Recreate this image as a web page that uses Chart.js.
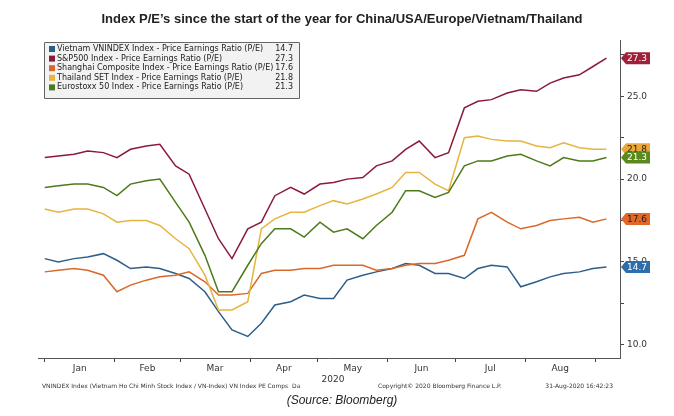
<!DOCTYPE html>
<html><head><meta charset="utf-8">
<script src="https://cdn.jsdelivr.net/npm/chart.js@4"></script>
<style>html,body{margin:0;padding:0;background:#fff}#w{width:674px;height:416px;position:relative}</style>
</head><body><div id="w"><canvas id="c" width="674" height="416"></canvas></div>
<script>
const days=[0,6,13,19,26,32,38,45,51,58,64,71,77,83,90,96,102,109,115,122,128,134,141,147,154,160,166,173,179,186,192,198,205,211,218,224,230,237,243,249];
const monthLabels=["Jan","Feb","Mar","Apr","May","Jun","Jul","Aug"];
const monthStarts=[0,31,60,91,121,152,182,213,244];
const yTicks=[10,15,20,25];
const vietnam=[15.2,15.0,15.2,15.3,15.5,15.1,14.6,14.7,14.6,14.3,14.0,13.2,12.0,10.9,10.5,11.3,12.4,12.6,13.0,12.8,12.8,13.9,14.2,14.4,14.6,14.9,14.8,14.3,14.3,14.0,14.6,14.8,14.7,13.5,13.8,14.1,14.3,14.4,14.6,14.7];
const sp500=[21.3,21.4,21.5,21.7,21.6,21.3,21.8,22.0,22.1,20.8,20.3,18.2,16.4,15.2,17.0,17.4,19.0,19.5,19.1,19.7,19.8,20.0,20.1,20.8,21.1,21.8,22.3,21.3,21.6,24.3,24.7,24.8,25.2,25.4,25.3,25.8,26.1,26.3,26.8,27.3];
const shanghai=[14.4,14.5,14.6,14.5,14.2,13.2,13.6,13.9,14.1,14.2,14.4,13.8,13.0,13.0,13.1,14.3,14.5,14.5,14.6,14.6,14.8,14.8,14.8,14.5,14.6,14.8,14.9,14.9,15.1,15.4,17.6,18.0,17.4,17.0,17.2,17.5,17.6,17.7,17.4,17.6];
const thailand=[18.2,18.0,18.2,18.2,17.9,17.4,17.5,17.5,17.2,16.4,15.8,14.2,12.1,12.1,12.6,17.0,17.6,18.0,18.0,18.4,18.7,18.5,18.8,19.1,19.5,20.4,20.4,19.7,19.3,22.5,22.6,22.4,22.3,22.3,22.0,21.9,22.2,21.9,21.8,21.8];
const eurostoxx=[19.5,19.6,19.7,19.7,19.5,19.0,19.7,19.9,20.0,18.6,17.4,15.4,13.2,13.2,14.8,16.1,17.0,17.0,16.5,17.4,16.8,17.0,16.4,17.2,18.0,19.3,19.3,18.9,19.2,20.8,21.1,21.1,21.4,21.5,21.1,20.8,21.3,21.1,21.1,21.3];
const series=[
 {name:"Vietnam VNINDEX Index - Price Earnings Ratio (P/E)",data:vietnam,color:"#2d5f8a",tag:"#2f6ea8",txt:"#fff"},
 {name:"S&P500 Index - Price Earnings Ratio (P/E)",data:sp500,color:"#8b1a3a",tag:"#a0203a",txt:"#fff"},
 {name:"Shanghai Composite Index - Price Earnings Ratio (P/E)",data:shanghai,color:"#d9692a",tag:"#e2682a",txt:"#222"},
 {name:"Thailand SET Index - Price Earnings Ratio (P/E)",data:thailand,color:"#e6b440",tag:"#eaa83a",txt:"#222"},
 {name:"Eurostoxx 50 Index - Price Earnings Ratio (P/E)",data:eurostoxx,color:"#4d7a1a",tag:"#5a8a1e",txt:"#fff"}
];
const draw={id:'draw',afterDraw(ch){
 const c=ch.ctx,x=ch.scales.x,y=ch.scales.y,a=ch.chartArea;
 c.save();
 c.fillStyle='#222';c.font='bold 13px "Liberation Sans",Arial';c.textAlign='center';c.textBaseline='middle';
 c.fillText("Index P/E’s since the start of the year for China/USA/Europe/Vietnam/Thailand",342,19);
 c.font='9px "DejaVu Sans"';c.fillStyle='#333';c.textAlign='left';
 yTicks.forEach(v=>c.fillText(v.toFixed(1),a.right+7,y.getPixelForValue(v)));
 c.textAlign='center';
 monthLabels.forEach((m,i)=>c.fillText(m,(x.getPixelForValue(monthStarts[i])+x.getPixelForValue(monthStarts[i+1]))/2,a.bottom+11));
 c.fillText("2020",333,a.bottom+22);
 c.font='6px "DejaVu Sans"';c.textAlign='left';
 c.fillText("VNINDEX Index (Vietnam Ho Chi Minh Stock Index / VN-Index) VN Index PE Comps  Da",42,386);
 c.fillText("Copyright© 2020 Bloomberg Finance L.P.",378,386);
 c.textAlign='right';c.fillText("31-Aug-2020 16:42:23",613,386);
 c.textAlign='center';c.font='italic 12px "Liberation Sans",Arial';c.fillStyle='#222';
 c.fillText("(Source: Bloomberg)",342,401);
 // legend
 c.fillStyle='#f2f2f2';c.strokeStyle='#666';c.lineWidth=1;
 c.beginPath();c.rect(44.5,42.5,255,56);c.fill();c.stroke();
 c.font='8px "DejaVu Sans"';c.textBaseline='middle';
 series.forEach((s,i)=>{const yy=49+i*9.6;c.fillStyle=s.color;c.fillRect(49,yy-3,6,6);
  c.fillStyle='#222';c.textAlign='left';c.fillText(s.name,57,yy);c.textAlign='right';
  c.fillText(s.data[s.data.length-1].toFixed(1),293,yy);});
 // tags
 c.font='9px "DejaVu Sans"';c.textAlign='left';
 series.forEach(s=>{const v=s.data[s.data.length-1],py=y.getPixelForValue(v),px=a.right+1;
  c.fillStyle=s.tag;c.beginPath();c.moveTo(px,py);c.lineTo(px+5,py-6);c.lineTo(px+29,py-6);c.lineTo(px+29,py+6);c.lineTo(px+5,py+6);c.closePath();c.fill();
  c.fillStyle=s.txt;c.fillText(v.toFixed(1),px+6,py+0.5);});
 c.restore();}};
new Chart(document.getElementById('c'),{type:'line',
 data:{datasets:series.slice().reverse().map(s=>({data:s.data.map((v,i)=>({x:days[i],y:v})),borderColor:s.color,borderWidth:1.5,pointRadius:0,tension:0,fill:false}))},
 options:{responsive:false,animation:false,events:[],
  layout:{padding:{left:38,right:50,top:40,bottom:54}},
  plugins:{legend:{display:false},tooltip:{enabled:false}},
  scales:{
   x:{type:'linear',min:-3,max:255,afterBuildTicks:s=>{s.ticks=monthStarts.map(v=>({value:v}))},
      ticks:{display:false},grid:{drawOnChartArea:false,tickLength:4,color:'#444'},border:{color:'#555'}},
   y:{position:'right',min:9.2,max:28.4,afterBuildTicks:s=>{s.ticks=[10,12.5,15,17.5,20,22.5,25,27.5].map(v=>({value:v}))},
      ticks:{display:false},grid:{drawOnChartArea:false,tickLength:4,color:'#444'},border:{color:'#555'}}
  }},plugins:[draw]});
</script></body></html>
